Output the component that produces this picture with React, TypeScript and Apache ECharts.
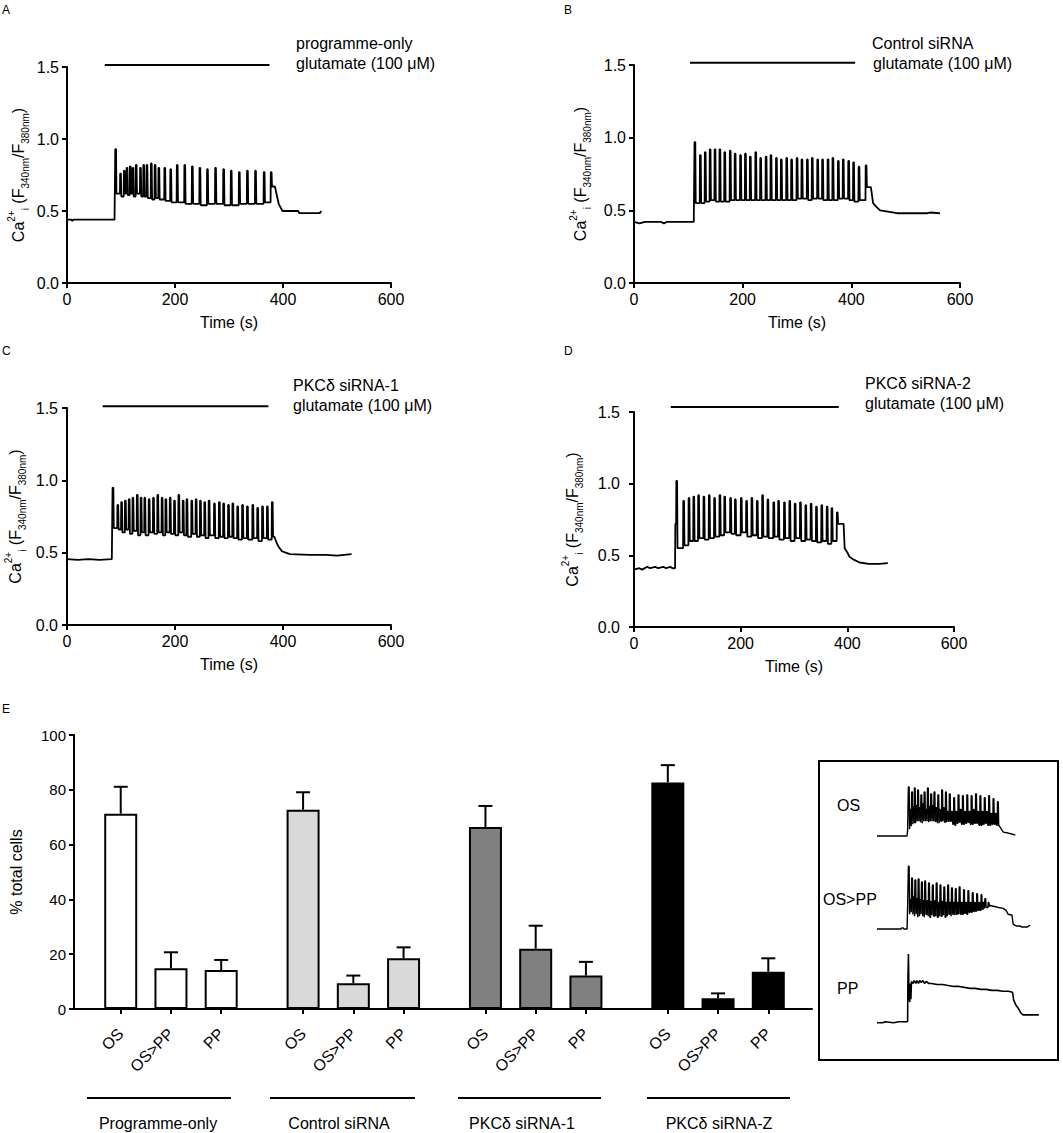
import React, { useEffect, useRef } from 'react';
import * as echarts from 'echarts';

const FONT = "'Liberation Sans', Arial, Helvetica, sans-serif";

// ---------- Panels A–D: Ca2+ traces (time s, ratio) ----------
// spikes: [time, peak, trough]
const baseA = [[0, 0.44], [8, 0.44], [10, 0.43], [12, 0.44], [88, 0.44]];
const spikesA = [
  [89, 0.93, 0.62], [98, 0.76, 0.6], [105, 0.78, 0.62], [110, 0.8, 0.61], [116, 0.81, 0.62],
  [121, 0.8, 0.6], [127, 0.82, 0.62], [135, 0.8, 0.6], [141, 0.82, 0.6], [147, 0.82, 0.59],
  [155, 0.83, 0.58], [162, 0.82, 0.59], [169, 0.8, 0.58], [180, 0.8, 0.57], [191, 0.79, 0.56],
  [203, 0.82, 0.56], [217, 0.82, 0.55], [231, 0.81, 0.55], [245, 0.8, 0.54], [259, 0.79, 0.55],
  [274, 0.8, 0.55], [289, 0.79, 0.54], [303, 0.78, 0.54], [318, 0.77, 0.55], [333, 0.78, 0.55],
  [348, 0.78, 0.55], [364, 0.77, 0.56], [377, 0.77, 0.67],
];
const tailA = [[385, 0.67], [392, 0.55], [399, 0.5], [428, 0.5], [430, 0.485], [468, 0.485], [471, 0.5]];
const glutA = [[70, 1.514], [375, 1.514]];

const baseB = [[0, 0.42], [10, 0.41], [20, 0.42], [50, 0.42], [55, 0.41], [60, 0.42], [110, 0.42]];
const spikesB = [
  [111, 0.97, 0.55], [121, 0.88, 0.55], [130, 0.9, 0.56], [139, 0.92, 0.57], [148, 0.92, 0.56],
  [157, 0.92, 0.56], [166, 0.9, 0.56], [176, 0.91, 0.57], [185, 0.89, 0.57], [195, 0.88, 0.57],
  [204, 0.89, 0.57], [213, 0.87, 0.57], [223, 0.9, 0.57], [232, 0.86, 0.57], [242, 0.87, 0.57],
  [251, 0.88, 0.57], [261, 0.86, 0.57], [270, 0.85, 0.57], [280, 0.86, 0.57], [289, 0.85, 0.57],
  [299, 0.86, 0.58], [308, 0.85, 0.58], [318, 0.85, 0.57], [327, 0.86, 0.58], [337, 0.85, 0.58],
  [346, 0.85, 0.57], [356, 0.85, 0.57], [365, 0.86, 0.57], [375, 0.84, 0.58], [384, 0.85, 0.58],
  [394, 0.84, 0.57], [403, 0.83, 0.56], [413, 0.8, 0.57], [426, 0.81, 0.66],
];
const tailB = [[436, 0.66], [440, 0.55], [447, 0.52], [453, 0.5], [470, 0.49], [484, 0.48], [540, 0.48], [545, 0.485], [563, 0.48]];
const glutB = [[103, 1.516], [407, 1.516]];

const baseC = [[0, 0.455], [20, 0.45], [40, 0.455], [60, 0.45], [83, 0.455]];
const spikesC = [
  [84, 0.95, 0.67], [93, 0.83, 0.66], [100, 0.85, 0.64], [107, 0.86, 0.66], [114, 0.87, 0.63],
  [121, 0.88, 0.65], [129, 0.9, 0.62], [136, 0.88, 0.64], [143, 0.88, 0.62], [151, 0.87, 0.64],
  [159, 0.88, 0.63], [167, 0.9, 0.64], [175, 0.88, 0.62], [182, 0.87, 0.64], [190, 0.88, 0.63],
  [198, 0.86, 0.62], [206, 0.9, 0.64], [214, 0.86, 0.62], [221, 0.87, 0.61], [230, 0.86, 0.63],
  [238, 0.87, 0.61], [246, 0.86, 0.62], [254, 0.85, 0.6], [262, 0.86, 0.62], [272, 0.84, 0.6],
  [281, 0.85, 0.61], [289, 0.84, 0.6], [298, 0.83, 0.61], [306, 0.84, 0.6], [315, 0.82, 0.59],
  [324, 0.83, 0.6], [333, 0.82, 0.59], [343, 0.83, 0.6], [352, 0.81, 0.58], [361, 0.82, 0.6],
  [370, 0.82, 0.59], [379, 0.85, 0.61],
];
const tailC = [[384, 0.61], [388, 0.57], [392, 0.54], [398, 0.51], [405, 0.5], [413, 0.49], [450, 0.485], [480, 0.485], [500, 0.48], [527, 0.49]];
const glutC = [[66, 1.512], [373, 1.512]];

const baseD = [
  [0, 0.4], [10, 0.41], [15, 0.4], [25, 0.42], [30, 0.41], [40, 0.42], [45, 0.41],
  [55, 0.42], [60, 0.41], [68, 0.42], [72, 0.41], [77, 0.41], [77.5, 0.72],
];
const spikesD = [
  [79, 1.02, 0.55], [92, 0.88, 0.57], [102, 0.9, 0.6], [111, 0.91, 0.6], [120, 0.92, 0.62],
  [130, 0.91, 0.61], [140, 0.92, 0.62], [150, 0.9, 0.63], [160, 0.92, 0.64], [169, 0.91, 0.66],
  [180, 0.9, 0.65], [189, 0.89, 0.64], [200, 0.9, 0.66], [210, 0.88, 0.63], [220, 0.9, 0.64],
  [230, 0.88, 0.62], [240, 0.92, 0.63], [250, 0.89, 0.62], [261, 0.87, 0.63], [270, 0.88, 0.61],
  [281, 0.87, 0.62], [291, 0.88, 0.6], [301, 0.86, 0.62], [311, 0.87, 0.6], [321, 0.85, 0.61],
  [331, 0.86, 0.6], [341, 0.84, 0.59], [351, 0.85, 0.6], [361, 0.84, 0.58], [370, 0.83, 0.6],
  [380, 0.8, 0.72],
];
const tailD = [[393, 0.72], [395, 0.55], [400, 0.52], [404, 0.49], [412, 0.47], [423, 0.45], [440, 0.44], [460, 0.44], [476, 0.445]];
const glutD = [[69, 1.535], [384, 1.535]];

const traceTicksX = [0, 200, 400, 600];

// ---------- Panel E: % total cells ----------
const groupNames = ['Programme-only', 'Control siRNA', 'PKCδ siRNA-1', 'PKCδ siRNA-Z'];
const responseTypes = ['OS', 'OS>PP', 'PP'];
const barMeans = [
  [71.3, 14.9, 14.2],
  [72.7, 9.4, 18.5],
  [66.4, 22.0, 12.2],
  [82.7, 3.9, 13.6],
];
const barErrTops = [
  [81.1, 20.7, 17.9],
  [79.1, 12.2, 22.5],
  [74.1, 30.4, 17.2],
  [89.0, 5.7, 18.5],
];
const groupColors = ['#ffffff', '#d9d9d9', '#808080', '#000000'];

// ---------- Inset example traces (time s, ratio) ----------
const insetOSBase = [[0, 0.45], [55, 0.45], [56, 0.51]];
const insetOSSpikes = [
  [57, 0.95, 0.52], [60, 0.72, 0.55], [63, 0.9, 0.57], [66, 0.75, 0.58], [68, 0.94, 0.58],
  [71, 0.76, 0.6], [74, 0.92, 0.6], [77, 0.74, 0.59], [80, 0.87, 0.58], [83, 0.78, 0.6],
  [86, 0.9, 0.6], [89, 0.72, 0.6], [92, 0.94, 0.59], [95, 0.75, 0.6], [98, 0.88, 0.6],
  [101, 0.76, 0.6], [104, 0.9, 0.6], [108, 0.74, 0.58], [111, 0.87, 0.58], [114, 0.72, 0.6],
  [118, 0.92, 0.6], [121, 0.74, 0.59], [125, 0.9, 0.59], [128, 0.7, 0.6], [132, 0.88, 0.6],
  [136, 0.7, 0.57], [140, 0.84, 0.56], [144, 0.7, 0.58], [148, 0.87, 0.59], [152, 0.72, 0.57],
  [156, 0.86, 0.57], [160, 0.7, 0.58], [164, 0.87, 0.59], [168, 0.7, 0.57], [172, 0.86, 0.57],
  [176, 0.72, 0.58], [180, 0.88, 0.58], [184, 0.7, 0.56], [188, 0.86, 0.56], [192, 0.7, 0.57],
  [196, 0.84, 0.58], [200, 0.7, 0.56], [204, 0.86, 0.56], [208, 0.68, 0.57], [212, 0.83, 0.57],
  [216, 0.68, 0.56], [220, 0.8, 0.56],
];
const insetOSTail = [[224, 0.55], [231, 0.49], [240, 0.48], [253, 0.46]];

const insetOSPPBase = [[0, 0.45], [44, 0.45], [45, 0.46], [48, 0.46], [49, 0.45], [55, 0.45], [56, 0.68]];
const insetOSPPSpikes = [
  [57, 1.09, 0.6], [60, 0.75, 0.62], [63, 0.97, 0.6], [66, 0.78, 0.58], [69, 0.95, 0.6],
  [72, 0.76, 0.57], [75, 0.96, 0.58], [78, 0.75, 0.6], [81, 0.93, 0.58], [84, 0.74, 0.57],
  [87, 0.94, 0.6], [91, 0.74, 0.58], [94, 0.92, 0.57], [98, 0.73, 0.59], [101, 0.9, 0.58],
  [105, 0.74, 0.58], [108, 0.92, 0.57], [112, 0.72, 0.58], [115, 0.9, 0.58], [119, 0.73, 0.59],
  [122, 0.88, 0.57], [126, 0.72, 0.58], [129, 0.9, 0.6], [133, 0.72, 0.58], [136, 0.87, 0.6],
  [140, 0.72, 0.59], [143, 0.86, 0.6], [147, 0.72, 0.6], [150, 0.88, 0.6], [154, 0.72, 0.6],
  [158, 0.85, 0.61], [162, 0.72, 0.6], [166, 0.84, 0.62], [170, 0.72, 0.62], [174, 0.82, 0.63],
  [178, 0.72, 0.63], [182, 0.81, 0.64], [186, 0.72, 0.64], [190, 0.8, 0.65], [194, 0.72, 0.66],
  [197, 0.76, 0.67], [203, 0.72, 0.68],
];
const insetOSPPTail = [
  [207, 0.69], [215, 0.68], [222, 0.67], [231, 0.66], [236, 0.64], [240, 0.6], [247, 0.59],
  [249, 0.5], [255, 0.48], [262, 0.48], [265, 0.47], [275, 0.47], [280, 0.49],
];

const insetPP = [
  [0, 0.44], [10, 0.44], [15, 0.45], [30, 0.44], [40, 0.45], [56, 0.45], [56.5, 0.86], [57.5, 1.14],
  [58.5, 0.7], [60, 0.65], [61, 0.84], [62, 0.68], [63, 0.86], [66, 0.84], [68, 0.87], [71, 0.84],
  [73, 0.87], [76, 0.84], [78, 0.87], [81, 0.85], [84, 0.87], [87, 0.84], [90, 0.86], [95, 0.84],
  [100, 0.84], [110, 0.83], [120, 0.83], [130, 0.82], [140, 0.81], [150, 0.81], [160, 0.8],
  [170, 0.79], [180, 0.79], [190, 0.78], [200, 0.78], [210, 0.77], [220, 0.77], [230, 0.76],
  [240, 0.76], [248, 0.75], [250, 0.67], [254, 0.62], [258, 0.59], [263, 0.54], [267, 0.52], [296, 0.52],
];

// ---------- helpers ----------
function buildTrace(base: number[][], spikes: number[][], tail: number[][]) {
  const pts: number[][] = base.map((p) => [p[0], p[1]]);
  let prev = base[base.length - 1][1];
  spikes.forEach(([t, p, q]) => {
    pts.push([t, prev]);
    pts.push([t + 0.4, p]);
    pts.push([t + 1.8, p]);
    pts.push([t + 2.6, q]);
    prev = q;
  });
  tail.forEach((p) => pts.push([p[0], p[1]]));
  return pts;
}

const black = '#000';
const axisLineStyle = { color: black, width: 2 };

const yName = '{a|Ca}{sup|2+}{sub|i}{a| (F}{sub|340nm}{a|/F}{sub|380nm}{a|)}';
const yRich = {
  a: { fontSize: 16, fontFamily: FONT, color: black, lineHeight: 24 },
  sup: { fontSize: 10, fontFamily: FONT, color: black, lineHeight: 11, verticalAlign: 'top' },
  sub: { fontSize: 10, fontFamily: FONT, color: black, lineHeight: 11, verticalAlign: 'bottom' },
};

function traceX(gi: number) {
  return {
    type: 'value', gridIndex: gi, min: 0, max: 600, interval: 200,
    name: 'Time (s)', nameLocation: 'middle', nameGap: 31,
    nameTextStyle: { fontSize: 16, color: black, fontFamily: FONT },
    axisLine: { onZero: false, lineStyle: axisLineStyle },
    axisTick: { length: 5, lineStyle: axisLineStyle, customValues: traceTicksX },
    axisLabel: { fontSize: 16, color: black, fontFamily: FONT, margin: 8 },
    splitLine: { show: false },
  };
}
function traceY(gi: number, nameGap: number, labelMargin: number) {
  return {
    type: 'value', gridIndex: gi, min: 0, max: 1.5, interval: 0.5,
    name: yName, nameLocation: 'middle', nameRotate: 90, nameGap,
    nameTextStyle: { rich: yRich },
    axisLine: { show: true, onZero: false, lineStyle: axisLineStyle },
    axisTick: { show: true, length: 5, lineStyle: axisLineStyle },
    axisLabel: { fontSize: 16, color: black, fontFamily: FONT, margin: labelMargin, formatter: (v: number) => v.toFixed(1) },
    splitLine: { show: false },
  };
}
function traceSeries(gi: number, data: number[][], width = 1.8) {
  return {
    type: 'line', xAxisIndex: gi, yAxisIndex: gi, data, symbol: 'none', silent: true, clip: false,
    lineStyle: { color: black, width }, animation: false,
  };
}

// bar positions on a value axis: groups separated by a gap
const GROUP_STEP = 3.63;
const barData: any[] = [];
const errData: number[][] = [];
const barPositions: number[] = [];
const barLabels: string[] = [];
groupNames.forEach((_, g) => {
  responseTypes.forEach((rt, b) => {
    const x = g * GROUP_STEP + b;
    barPositions.push(x);
    barLabels.push(rt);
    barData.push({ value: [x, barMeans[g][b]], itemStyle: { color: groupColors[g] } });
    errData.push([x, barMeans[g][b], barErrTops[g][b]]);
  });
});

function txt(text: string, x: number, y: number, size = 16, align = 'left') {
  return {
    type: 'text', x, y, silent: true,
    style: {
      text, fontSize: size, fontFamily: FONT, fill: black,
      textAlign: align, textVerticalAlign: 'middle', align, verticalAlign: 'middle',
    },
  };
}
function hline(x1: number, x2: number, y: number) {
  return { type: 'line', silent: true, shape: { x1, y1: y, x2, y2: y }, style: { stroke: black, lineWidth: 2 } };
}

const option: any = {
  animation: false,
  backgroundColor: '#fff',
  textStyle: { fontFamily: FONT },
  grid: [
    { left: 67, top: 67, width: 324, height: 216 },
    { left: 634, top: 65, width: 326, height: 218 },
    { left: 67, top: 408, width: 324, height: 217 },
    { left: 634, top: 412, width: 320, height: 215 },
    { left: 70, top: 735, width: 742, height: 274 },
    { left: 877, top: 762.5, width: 164, height: 88.2 },
    { left: 877, top: 855.5, width: 164, height: 88.2 },
    { left: 877, top: 948.2, width: 164, height: 88.2 },
  ],
  xAxis: [
    traceX(0), traceX(1), traceX(2), traceX(3),
    {
      type: 'value', gridIndex: 4, min: -0.93, max: 13.76,
      axisLine: { onZero: false, lineStyle: axisLineStyle },
      axisTick: { length: 5, lineStyle: axisLineStyle, customValues: barPositions },
      axisLabel: {
        customValues: barPositions, rotate: 45, margin: 22, fontSize: 16, color: black, fontFamily: FONT,
        formatter: (v: number) => {
          const i = barPositions.findIndex((p) => Math.abs(p - v) < 0.01);
          return i >= 0 ? barLabels[i] : '';
        },
      },
      splitLine: { show: false },
    },
    { type: 'value', gridIndex: 5, min: 0, max: 300, show: false },
    { type: 'value', gridIndex: 6, min: 0, max: 300, show: false },
    { type: 'value', gridIndex: 7, min: 0, max: 300, show: false },
  ],
  yAxis: [
    traceY(0, 37, 8), traceY(1, 42, 8), traceY(2, 40, 9), traceY(3, 50, 14),
    {
      type: 'value', gridIndex: 4, min: 0, max: 100, interval: 20,
      name: '% total cells', nameLocation: 'middle', nameRotate: 90, nameGap: 50,
      nameTextStyle: { fontSize: 16, color: black, fontFamily: FONT },
      axisLine: { show: true, onZero: false, lineStyle: axisLineStyle },
      axisTick: { show: true, length: 5, lineStyle: axisLineStyle },
      axisLabel: { fontSize: 15, color: black, fontFamily: FONT, margin: 8 },
      splitLine: { show: false },
    },
    { type: 'value', gridIndex: 5, min: 0.3, max: 1.2, show: false },
    { type: 'value', gridIndex: 6, min: 0.3, max: 1.2, show: false },
    { type: 'value', gridIndex: 7, min: 0.3, max: 1.2, show: false },
  ],
  series: [
    traceSeries(0, buildTrace(baseA, spikesA, tailA)),
    traceSeries(0, glutA, 2),
    traceSeries(1, buildTrace(baseB, spikesB, tailB)),
    traceSeries(1, glutB, 2),
    traceSeries(2, buildTrace(baseC, spikesC, tailC)),
    traceSeries(2, glutC, 2),
    traceSeries(3, buildTrace(baseD, spikesD, tailD)),
    traceSeries(3, glutD, 2),
    {
      type: 'bar', xAxisIndex: 4, yAxisIndex: 4, data: barData, barWidth: 33, silent: true,
      itemStyle: { borderColor: black, borderWidth: 2 },
    },
    {
      type: 'custom', xAxisIndex: 4, yAxisIndex: 4, data: errData, silent: true, z: 3,
      encode: { x: 0, y: 2 },
      renderItem: (_p: any, api: any) => {
        const x = api.value(0), m = api.value(1), t = api.value(2);
        const p0 = api.coord([x, m]);
        const p1 = api.coord([x, t]);
        return {
          type: 'group',
          children: [
            { type: 'line', shape: { x1: p0[0], y1: p0[1], x2: p1[0], y2: p1[1] }, style: { stroke: black, lineWidth: 2 } },
            { type: 'line', shape: { x1: p1[0] - 7, y1: p1[1], x2: p1[0] + 7, y2: p1[1] }, style: { stroke: black, lineWidth: 2 } },
          ],
        };
      },
    },
    traceSeries(5, buildTrace(insetOSBase, insetOSSpikes, insetOSTail), 1.4),
    traceSeries(6, buildTrace(insetOSPPBase, insetOSPPSpikes, insetOSPPTail), 1.4),
    traceSeries(7, insetPP, 1.6),
  ],
  graphic: [
    txt('A', 2, 10, 12), txt('B', 564, 10, 12), txt('C', 2, 351, 12), txt('D', 564, 351, 12), txt('E', 2, 709, 12),
    txt('programme-only', 296, 43), txt('glutamate (100 μM)', 296, 63),
    txt('Control siRNA', 872, 43), txt('glutamate (100 μM)', 873, 63),
    txt('PKCδ siRNA-1', 293, 385), txt('glutamate (100 μM)', 293, 405),
    txt('PKCδ siRNA-2', 865, 383), txt('glutamate (100 μM)', 865, 403),
    hline(87, 231, 1098), hline(270, 415, 1098), hline(458, 601, 1098), hline(647, 790, 1098),
    txt(groupNames[0], 158, 1123, 16, 'center'),
    txt(groupNames[1], 339, 1123, 16, 'center'),
    txt(groupNames[2], 522, 1123, 16, 'center'),
    txt(groupNames[3], 719, 1123, 16, 'center'),
    {
      type: 'rect', silent: true, shape: { x: 819, y: 761, width: 239, height: 299 },
      style: { fill: 'none', stroke: black, lineWidth: 2 },
    },
    txt('OS', 837, 805), txt('OS>PP', 823, 899), txt('PP', 837, 988),
  ],
};

export default function App() {
  const ref = useRef<HTMLDivElement>(null);
  useEffect(() => {
    const chart = echarts.init(ref.current!, null, { renderer: 'svg' });
    chart.setOption(option);
    return () => chart.dispose();
  }, []);
  return (
    <div
      ref={ref}
      style={{ position: 'absolute', left: 0, top: 0, width: 1063, height: 1133, background: '#fff' }}
    />
  );
}
